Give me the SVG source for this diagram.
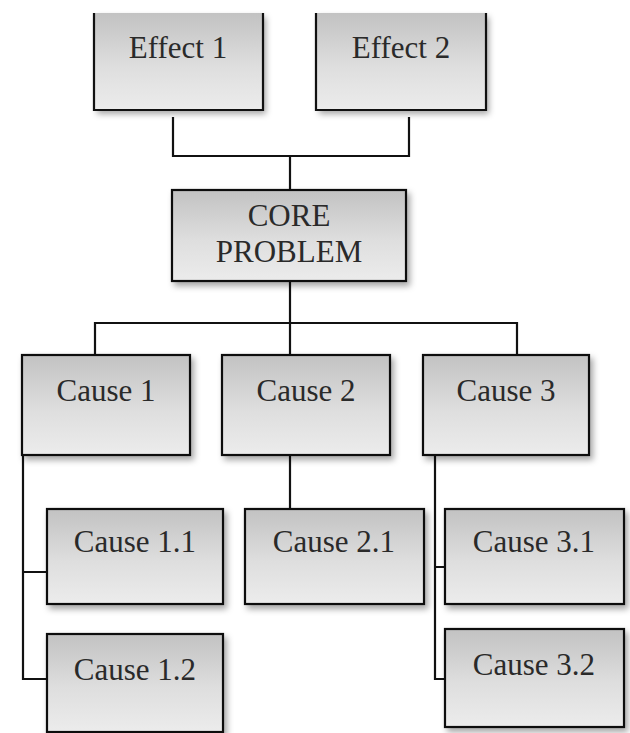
<svg xmlns="http://www.w3.org/2000/svg" width="630" height="733" viewBox="0 0 630 733">
<style>
.box{fill:url(#g);stroke:#111;stroke-width:2.2;filter:url(#sh)}
.fill{fill:url(#g);filter:url(#sh)}
.edge{fill:none;stroke:#111;stroke-width:2.2}
.lbl{font-family:"Liberation Serif","Times New Roman",serif;font-size:31px;fill:#2a2a2a;text-anchor:middle}
.con{fill:none;stroke:#111;stroke-width:2.2}
</style>
<defs>
<linearGradient id="g" x1="0" y1="0" x2="0" y2="1">
<stop offset="0" stop-color="#c2c2c2"/>
<stop offset="0.55" stop-color="#dedede"/>
<stop offset="1" stop-color="#ececec"/>
</linearGradient>
<filter id="sh" x="-10%" y="-10%" width="125%" height="130%">
<feDropShadow dx="3" dy="4" stdDeviation="3" flood-color="#000" flood-opacity="0.35"/>
</filter>
</defs>
<rect width="630" height="733" fill="#fff"/>
<g id="connectors">
<path class="con" d="M173,117 V156 H409 V117"/>
<path class="con" d="M290,156 V190"/>
<path class="con" d="M290,281 V355"/>
<path class="con" d="M95,355 V323 H517 V355"/>
<path class="con" d="M23,455 V679 H47 M23,572 H47"/>
<path class="con" d="M290,455 V509"/>
<path class="con" d="M435,455 V679 H445 M435,567 H445"/>
</g>
<g id="effect1">
<rect class="fill" x="94" y="13" width="169" height="97"/>
<path class="edge" d="M94,13 V110 H263 V13"/>
<text class="lbl" x="178" y="58">Effect 1</text>
</g>
<g id="effect2">
<rect class="fill" x="316" y="13" width="170" height="97"/>
<path class="edge" d="M316,13 V110 H486 V13"/>
<text class="lbl" x="401" y="58">Effect 2</text>
</g>
<g id="core">
<rect class="box" x="172" y="190" width="234" height="91"/>
<text class="lbl" x="289" y="226">CORE</text>
<text class="lbl" x="289" y="262">PROBLEM</text>
</g>
<g id="cause1">
<rect class="box" x="22" y="355" width="168" height="100"/>
<text class="lbl" x="106" y="401">Cause 1</text>
</g>
<g id="cause2">
<rect class="box" x="222" y="355" width="168" height="100"/>
<text class="lbl" x="306" y="401">Cause 2</text>
</g>
<g id="cause3">
<rect class="box" x="423" y="355" width="166" height="100"/>
<text class="lbl" x="506" y="401">Cause 3</text>
</g>
<g id="cause11">
<rect class="box" x="47" y="509" width="176" height="95"/>
<text class="lbl" x="135" y="552">Cause 1.1</text>
</g>
<g id="cause12">
<rect class="box" x="47" y="634" width="176" height="98"/>
<text class="lbl" x="135" y="680">Cause 1.2</text>
</g>
<g id="cause21">
<rect class="box" x="245" y="509" width="179" height="95"/>
<text class="lbl" x="334" y="552">Cause 2.1</text>
</g>
<g id="cause31">
<rect class="box" x="445" y="509" width="179" height="95"/>
<text class="lbl" x="534" y="552">Cause 3.1</text>
</g>
<g id="cause32">
<rect class="box" x="445" y="629" width="179" height="98"/>
<text class="lbl" x="534" y="675">Cause 3.2</text>
</g>
</svg>
